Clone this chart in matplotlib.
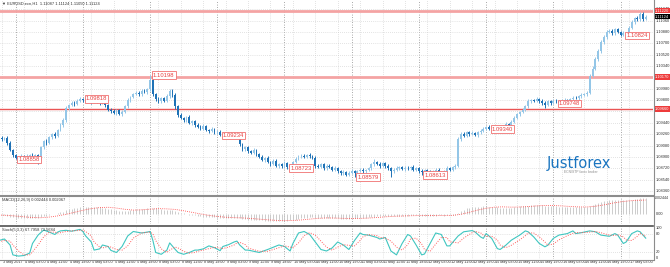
import numpy as np
import matplotlib as mpl
mpl.use('Agg')
import matplotlib.pyplot as plt
from matplotlib.transforms import blended_transform_factory as blend

plt.rcParams['font.family'] = ['Liberation Sans', 'DejaVu Sans']

# ---- EURUSD H1 candles, 3 May 18:00 .. 17 May 2017 ----
first_open = 1.09210
closes = [
    1.09195, 1.09180, 1.09205, 1.09120, 1.09010, 1.08930, 1.08880, 1.08895, 1.08910, 1.08905, 1.08920, 1.08935,
    1.08915, 1.08930, 1.08880, 1.09050, 1.09150, 1.09120, 1.09210, 1.09260, 1.09230, 1.09330, 1.09410, 1.09480,
    1.09670, 1.09720, 1.09760, 1.09740, 1.09790, 1.09820, 1.09800, 1.09810, 1.09790, 1.09770, 1.09800, 1.09780,
    1.09760, 1.09790, 1.09720, 1.09650, 1.09630, 1.09600, 1.09640, 1.09580, 1.09610, 1.09700, 1.09800, 1.09850,
    1.09900, 1.09920, 1.09890, 1.09950, 1.09930, 1.09980, 1.10120, 1.09900, 1.09820, 1.09780, 1.09830, 1.09790,
    1.09860, 1.09950, 1.09880, 1.09700, 1.09560, 1.09520, 1.09480, 1.09530, 1.09440, 1.09470, 1.09400, 1.09380,
    1.09350, 1.09390, 1.09330, 1.09310, 1.09340, 1.09290, 1.09300, 1.09250, 1.09260, 1.09280, 1.09270, 1.09250,
    1.09280, 1.09260, 1.09100, 1.09020, 1.09050, 1.08990, 1.08960, 1.09010, 1.08940, 1.08900, 1.08850, 1.08880,
    1.08820, 1.08790, 1.08840, 1.08760, 1.08780, 1.08750, 1.08800, 1.08740, 1.08760, 1.08820, 1.08870, 1.08910,
    1.08920, 1.08900, 1.08930, 1.08910, 1.08890, 1.08760, 1.08740, 1.08780, 1.08720, 1.08760, 1.08740, 1.08700,
    1.08720, 1.08680, 1.08640, 1.08660, 1.08620, 1.08650, 1.08680, 1.08640, 1.08680, 1.08700, 1.08670, 1.08690,
    1.08720, 1.08780, 1.08820, 1.08790, 1.08760, 1.08800, 1.08750, 1.08720, 1.08680, 1.08700, 1.08720, 1.08740,
    1.08710, 1.08730, 1.08720, 1.08740, 1.08700, 1.08720, 1.08680, 1.08660, 1.08690, 1.08670, 1.08650, 1.08680,
    1.08700, 1.08660, 1.08640, 1.08680, 1.08720, 1.08700, 1.08740, 1.08760, 1.09180, 1.09260, 1.09230, 1.09290,
    1.09260, 1.09280, 1.09250, 1.09290, 1.09310, 1.09350, 1.09370, 1.09340, 1.09360, 1.09330, 1.09350, 1.09330,
    1.09380, 1.09420, 1.09400, 1.09460, 1.09520, 1.09580, 1.09610, 1.09650, 1.09700, 1.09780, 1.09800, 1.09790,
    1.09820, 1.09790, 1.09750, 1.09720, 1.09780, 1.09760, 1.09790, 1.09780, 1.09760, 1.09790, 1.09800, 1.09790,
    1.09820, 1.09840, 1.09830, 1.09860, 1.09880, 1.09900, 1.09920, 1.10180, 1.10300, 1.10450, 1.10580, 1.10720,
    1.10800, 1.10880, 1.10900, 1.10860, 1.10920, 1.10880, 1.10840, 1.10860, 1.10860, 1.10950, 1.11040, 1.11100,
    1.11080, 1.11160, 1.11090, 1.11124,
]
# wicks in pips above / below the body
wick_up = [
    2, 3, 1, 2, 3, 2, 1, 2, 3, 2, 2, 1, 3, 2, 2, 3, 2, 3, 2, 2, 3, 2, 3, 4,
    3, 2, 3, 2, 2, 3, 2, 1, 2, 2, 3, 2, 2, 1, 3, 2, 2, 3, 2, 2, 3, 2, 3, 2,
    2, 3, 2, 2, 3, 2, 8, 3, 2, 3, 2, 2, 3, 3, 2, 3, 2, 3, 2, 2, 3, 2, 2, 3,
    2, 3, 2, 2, 3, 2, 2, 2, 3, 2, 2, 3, 2, 2, 4, 2, 3, 2, 2, 3, 2, 2, 3, 2,
    3, 2, 2, 3, 2, 2, 3, 2, 2, 2, 3, 2, 3, 2, 2, 3, 2, 2, 3, 2, 2, 3, 2, 2,
    3, 2, 2, 3, 2, 2, 3, 2, 2, 2, 3, 2, 2, 3, 4, 2, 3, 2, 2, 3, 2, 2, 3, 2,
    2, 3, 2, 2, 3, 2, 2, 3, 2, 2, 3, 2, 2, 3, 2, 2, 3, 2, 2, 2, 4, 3, 3, 2,
    2, 3, 2, 2, 3, 2, 2, 3, 2, 2, 3, 2, 2, 3, 2, 2, 3, 2, 2, 3, 2, 3, 2, 2,
    3, 2, 2, 3, 2, 2, 3, 2, 2, 2, 3, 2, 2, 3, 2, 2, 3, 2, 2, 3, 4, 3, 3, 3,
    3, 3, 2, 3, 2, 3, 2, 3, 2, 3, 3, 2, 3, 4, 3, 2,
]
wick_dn = [
    2, 3, 2, 3, 2, 3, 2, 2, 2, 3, 2, 2, 3, 2, 10, 3, 2, 3, 2, 2, 3, 2, 2, 3,
    3, 2, 2, 3, 2, 2, 3, 2, 2, 3, 2, 2, 3, 2, 3, 2, 3, 2, 3, 2, 3, 2, 2, 3,
    2, 2, 3, 2, 2, 3, 3, 4, 3, 2, 3, 2, 2, 3, 3, 4, 3, 2, 3, 2, 2, 3, 2, 2,
    3, 2, 2, 3, 2, 2, 3, 2, 3, 2, 2, 2, 3, 2, 2, 3, 2, 3, 2, 2, 3, 2, 2, 3,
    2, 3, 2, 2, 3, 2, 2, 3, 2, 3, 2, 2, 3, 2, 2, 3, 2, 3, 2, 2, 3, 2, 2, 3,
    2, 3, 2, 3, 2, 3, 2, 6, 3, 2, 2, 3, 2, 2, 3, 2, 3, 2, 3, 2, 10, 3, 2, 2,
    2, 3, 2, 2, 3, 2, 3, 5, 2, 3, 2, 2, 3, 2, 3, 2, 2, 3, 2, 3, 2, 3, 2, 2,
    3, 2, 2, 3, 2, 2, 3, 2, 2, 3, 2, 2, 3, 2, 2, 3, 2, 2, 3, 2, 2, 3, 2, 2,
    2, 3, 3, 4, 2, 3, 2, 2, 2, 3, 2, 2, 3, 2, 2, 3, 2, 2, 3, 2, 2, 3, 3, 3,
    3, 3, 2, 3, 3, 2, 3, 3, 4, 3, 2, 3, 3, 2, 3, 2,
]

# MACD main (x1e-5), one per bar
macd_main = [
    -20, -22, -22, -28, -38, -48, -56, -60, -62, -62, -60, -57, -56, -53, -55,
    -45, -33, -25, -14, -4, 3, 14, 25, 35, 55, 68, 80, 88, 96, 103, 106,
    108, 107, 104, 103, 101, 98, 96, 90, 80, 71, 62, 54, 48, 40,
    40, 46, 53, 61, 68, 72, 77, 80, 84,
    96, 90, 82, 74, 70, 65, 64, 66, 63,
    50, 35, 22, 10, 3, -8, -14, -22, -28, -34, -37, -42, -46, -48, -50, -53, -56, -58,
    -57, -56, -55, -56, -55, -64, -72, -76, -82, -86, -87, -90, -93, -96, -98, -98, -100, -98, -101,
    -100, -101, -97, -98, -96, -90, -82, -73, -65, -60, -53, -49, -46,
    -52, -55, -56, -60, -60, -61, -62, -63, -65, -68, -68, -70, -68, -66, -66, -63, -60, -58, -55,
    -50, -44, -37, -34, -32, -28, -28, -30, -32, -31, -29, -27, -25, -25, -23, -22,
    -20, -21, -22, -24, -23, -23, -24, -24, -23, -21, -22, -23, -21, -18, -17, -13,
    20, 48, 66, 83, 93, 100, 104, 108, 110, 112, 113, 110, 108, 104, 100, 96, 95,
    96, 94, 96, 100, 106, 112, 116, 120, 126, 130, 132, 133, 132, 128, 122,
    120, 118, 115, 112, 108, 106, 104, 101, 100, 100, 100, 102, 104, 107, 110,
    120, 135, 150, 165, 178, 188, 196, 202, 206, 208, 210, 210, 209, 208, 210, 214, 220, 226, 232, 238, 244,
]
# MACD signal (x1e-5), every third bar
macd_signal = [
    -15, -20, -30, -42, -52, -55, -45, -28, -5, 25, 55, 80, 96, 100, 88, 70, 58, 62, 72, 80,
    76, 68, 48, 25, 2, -20, -36, -48, -54, -58, -66, -76, -86, -94, -98, -96, -88, -76, -64, -58,
    -60, -64, -66, -65, -60, -52, -42, -34, -30, -26, -23, -22, -23, -22, -20, -5, 25, 58, 85, 102,
    106, 102, 104, 110, 120, 127, 127, 120, 112, 105, 104, 115, 135, 160, 180, 195, 203, 207,
]

# Stochastic(5,3,3) read at these bars
stoch_bar = [0, 2, 4, 5, 7, 9, 11, 12, 14, 16, 18, 20, 21, 22, 24, 26, 28, 29, 30, 31, 33, 34, 36, 37, 39,
             40, 42, 44, 46, 48, 51, 53, 54, 55, 56, 58, 60, 61, 63, 64, 66, 68, 70, 71, 73, 75, 77, 79, 80,
             82, 84, 85, 86, 88, 89, 93, 96, 100, 102, 104, 105, 107, 109, 111, 113, 115, 117, 119, 121,
             123, 125, 127, 129, 130, 132, 135, 136, 138, 140, 142, 144, 146, 147, 149, 151, 152, 154, 156,
             158, 160, 161, 164, 166, 169, 170, 172, 173, 174, 176, 178, 179, 181, 183, 186, 188, 189, 191,
             193, 195, 196, 198, 200, 203, 205, 206, 208, 211, 213, 215, 218, 220, 221, 223, 224, 226, 228,
             229, 231]
stoch_k = [60, 65, 45, 12, 8, 10, 18, 50, 78, 95, 88, 80, 88, 92, 94, 91, 95, 97, 90, 75, 55, 28, 32, 45, 40,
           27, 20, 40, 75, 90, 85, 88, 90, 60, 20, 14, 28, 52, 30, 20, 14, 20, 28, 28, 32, 42, 36, 26, 40,
           46, 55, 58, 45, 28, 28, 20, 30, 45, 40, 25, 50, 85, 90, 80, 55, 30, 25, 35, 55,
           45, 30, 60, 85, 80, 78, 70, 65, 70, 25, 12, 50, 80, 75, 45, 12, 15, 50, 85,
           80, 42, 42, 75, 89, 93, 89, 72, 67, 83, 67, 33, 30, 44, 61, 78, 92, 89, 72,
           50, 39, 44, 67, 78, 83, 92, 83, 86, 92, 89, 78, 74, 83, 78, 50, 55, 83, 92,
           89, 67.8]
stoch_d = [55, 60, 58, 45, 25, 12, 12, 22, 45, 72, 88, 88, 85, 86, 90, 92, 93, 94, 94, 90, 75, 55, 38, 35, 40,
           38, 30, 28, 42, 68, 85, 87, 88, 82, 60, 32, 20, 28, 38, 35, 24, 18, 20, 24, 28, 33, 37, 35, 33,
           38, 45, 52, 54, 46, 35, 24, 24, 36, 42, 38, 36, 52, 76, 86, 78, 58, 38, 28, 38,
           46, 44, 42, 60, 72, 80, 76, 70, 68, 58, 38, 28, 46, 65, 68, 48, 30, 24, 48,
           70, 70, 56, 52, 68, 86, 90, 86, 78, 74, 74, 62, 45, 36, 44, 62, 76, 85, 85,
           72, 55, 45, 48, 62, 76, 84, 86, 86, 88, 90, 86, 78, 77, 79, 72, 62, 60, 74,
           84, 73.6]

# x axis labels: every 8th bar starting at bar 1
xlabels = ['3 May 2017', '4 May 03:00', '4 May 11:00', '4 May 19:00', '5 May 03:00', '5 May 11:00',
           '5 May 19:00', '8 May 03:00', '8 May 11:00', '8 May 19:00', '9 May 03:00', '9 May 11:00',
           '9 May 19:00', '10 May 03:00', '10 May 11:00', '10 May 19:00', '11 May 03:00', '11 May 11:00',
           '11 May 19:00', '12 May 03:00', '12 May 11:00', '12 May 19:00', '15 May 03:00', '15 May 11:00',
           '15 May 19:00', '16 May 03:00', '16 May 11:00', '16 May 19:00', '17 May 03:00']
day_starts = [6, 30, 54, 78, 102, 126, 150, 174, 198, 222]

price_ticks = [1.08360, 1.08540, 1.08720, 1.08900, 1.09080, 1.09260, 1.09440, 1.09620, 1.09800,
               1.09980, 1.10160, 1.10340, 1.10520, 1.10700, 1.10880, 1.11060, 1.11240]
level_prices = [1.11220, 1.10170, 1.09660]
level_names = ['1.11220', '1.10170', '1.09660']
tag_bar = [7, 31, 55, 80, 104, 128, 152, 176, 200, 224]
tag_price = [1.08858, 1.09818, 1.10198, 1.09234, 1.08723, 1.08579, 1.08613, 1.09340, 1.09748, 1.10824]

# ---------------------------------------------------------------------
W, H = 670, 267
fig = plt.figure(figsize=(W / 100, H / 100), dpi=100)
TXT = '#333333'
FS = 2.9


def px_axes(x0, y0, x1, y1):
    ax = fig.add_axes([x0 / W, 1 - y1 / H, (x1 - x0) / W, (y1 - y0) / H])
    for s in ax.spines.values():
        s.set_visible(False)
    ax.set_xticks([])
    ax.set_yticks([])
    ax.set_xlim(0.4, 233.6)
    return ax


main = px_axes(0, 0, 653, 195)
mac = px_axes(0, 196, 653, 224)
sto = px_axes(0, 226, 653, 259)

main.set_ylim(1.08296, 1.11387)
mac.set_ylim(-0.00148, 0.00267)
sto.set_ylim(-1.7, 108.3)

grid = dict(color='#c8c8c8', lw=0.5, ls=(0, (1, 2)), zorder=0)
sep = dict(color='#8a8a8a', lw=0.6, ls=(0, (1, 2)), zorder=0)
tick_bars = [1 + 8 * i for i in range(len(xlabels))]
for ax in (main, mac, sto):
    for b in tick_bars:
        ax.axvline(b, **grid)
    for d in day_starts:
        ax.axvline(d, **sep)
for p in price_ticks:
    main.axhline(p, **grid)
for lv in (20, 80):
    sto.axhline(lv, **grid)

# candles
bars = np.arange(len(closes))
c = np.array(closes)
o = np.array([first_open] + closes[:-1])
hi = np.maximum(o, c) + np.array(wick_up) * 1e-4
lo = np.minimum(o, c) - np.array(wick_dn) * 1e-4
cols = np.where(c >= o, '#94c6e7', '#1f72b6')
main.vlines(bars, lo, hi, colors=cols, lw=0.7, zorder=3)
main.bar(bars, np.maximum(np.abs(c - o), 0.00004), bottom=np.minimum(o, c), width=0.6,
         color=cols, lw=0, zorder=3)

# horizontal levels
main.axhline(level_prices[0], color='#f4a3a3', lw=2.0, zorder=2)
main.axhline(level_prices[1], color='#f4a3a3', lw=2.0, zorder=2)
main.axhline(level_prices[2], color='#ea5454', lw=1.0, zorder=2)

for b, p in zip(tag_bar, tag_price):
    main.text(b, p, '%.5f' % p, fontsize=4.2, color='#e84040', ha='left', va='center', zorder=5,
              bbox=dict(boxstyle='square,pad=0.2', fc='white', ec='#f07070', lw=0.6))

main.text(0.003, 0.99, '▼ EURUSD.ecn,H1  1.11087 1.11124 1.11050 1.11124', transform=main.transAxes,
          fontsize=FS, color=TXT, ha='left', va='top')

main.text(580 / 2.8, 1.0880, 'Justforex', fontsize=10.5, color='#1b75c0', ha='center', va='center',
          zorder=4, family='DejaVu Sans')
main.text(582 / 2.8, 1.08665, 'ECN/STP forex broker', fontsize=2.4, color='#8a8a8a', ha='center',
          va='center', zorder=4)

# right price scale
ry = blend(main.transAxes, main.transData)
for p in price_ticks:
    main.text(1.004, p, '%.5f' % p, transform=ry, fontsize=FS, color=TXT, ha='left',
              va='center', clip_on=False)
for p, name in zip(level_prices, level_names):
    main.text(1.003, p, name, transform=ry, fontsize=FS, color='white', ha='left', va='center',
              clip_on=False, bbox=dict(boxstyle='square,pad=0.2', fc='#ee3b3b', ec='none'))
main.text(1.003, closes[-1], '%.5f' % closes[-1], transform=ry, fontsize=FS, color='white',
          ha='left', va='center', clip_on=False,
          bbox=dict(boxstyle='square,pad=0.2', fc='black', ec='none'))

# MACD
mac.vlines(bars, 0, np.array(macd_main) * 1e-5, colors='#c4c4c4', lw=0.6, zorder=2)
mac.plot(np.arange(0, len(closes), 3), np.array(macd_signal) * 1e-5, color='#ff4040', lw=0.6,
         ls=(0, (1, 1.5)), zorder=3)
mac.text(0.003, 0.93, 'MACD(12,26,9) 0.002444 0.002067', transform=mac.transAxes, fontsize=FS,
         color=TXT, ha='left', va='top')
my = blend(mac.transAxes, mac.transData)
mac.text(1.002, 0.002444, '0.002444', transform=my, fontsize=2.6, color=TXT, va='center',
         clip_on=False)
mac.text(1.004, 0.0, '0.00', transform=my, fontsize=FS, color=TXT, va='center', clip_on=False)

# Stochastic
sto.plot(stoch_bar, stoch_k, color='#3fc6c0', lw=0.8, zorder=3)
sto.plot(stoch_bar, stoch_d, color='#ff5a5a', lw=0.7, ls=(0, (1, 1.5)), zorder=3)
sto.text(0.003, 0.95, 'Stoch(5,3,3) 67.7958 73.5684', transform=sto.transAxes, fontsize=FS,
         color=TXT, ha='left', va='top')
sy = blend(sto.transAxes, sto.transData)
for lv in (100, 80, 20, 0):
    sto.text(1.004, lv, str(lv), transform=sy, fontsize=FS, color=TXT, va='center',
             clip_on=False)

# x labels
sx = blend(sto.transData, sto.transAxes)
for b, t in zip(tick_bars, xlabels):
    sto.text(b + 0.3, -0.1, t, transform=sx, fontsize=2.7, color=TXT, ha='left', va='center',
             clip_on=False)


# window borders
def hline_px(y, **kw):
    fig.add_artist(plt.Line2D([0, 653 / W], [1 - y / H, 1 - y / H], transform=fig.transFigure, **kw))


hline_px(195.5, color='#8c8c8c', lw=1.5)
hline_px(225.5, color='#505050', lw=1.2)
hline_px(259.5, color='#8c8c8c', lw=0.8)
fig.add_artist(plt.Line2D([653.5 / W, 653.5 / W], [1 - 259.5 / H, 1], transform=fig.transFigure,
                          color='#8c8c8c', lw=0.8))

fig.savefig('out.png', dpi=100)
